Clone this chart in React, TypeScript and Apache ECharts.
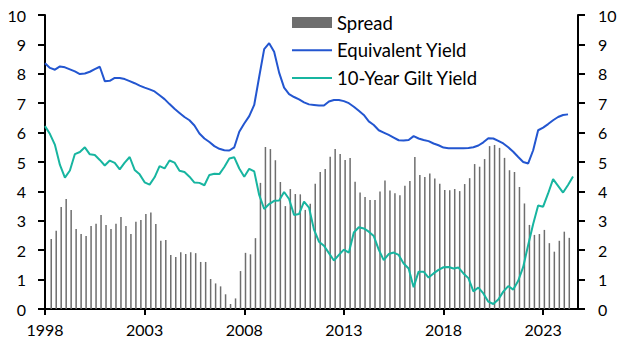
import React, { useEffect, useRef } from "react";
import * as echarts from "echarts";

// ---- Data ----
const START_YEAR = 1998;
const xTickYears = [1998, 2003, 2008, 2013, 2018, 2023];
const yTicks = [0, 1, 2, 3, 4, 5, 6, 7, 8, 9, 10];

// Quarterly spread (Equivalent yield minus 10-year gilt yield), %-points, 1998Q1 .. 2024Q1
const spread = [
  2.38, 2.66, 3.47, 3.74, 3.37, 2.72, 2.55, 2.48, 2.82, 2.9, 3.2, 2.86, 2.72, 2.9, 3.13, 2.82,
  2.55, 2.97, 3.03, 3.23, 3.28, 2.89, 2.32, 2.35, 1.84, 1.77,
  1.93, 1.87, 1.93, 1.9, 1.6, 1.6, 1.02, 0.87, 0.77, 0.5, 0.17, 0.36, 1.29, 1.91, 1.86, 2.41,
  4.29, 5.51, 5.44, 5.06, 4.32, 3.5, 4.08, 3.91, 3.9, 3.37, 3.58,
  4.26, 4.66, 4.76, 5.18, 5.44, 5.27, 5.07, 5.14, 4.33, 3.96, 3.81, 3.71, 3.71, 4.0, 4.37, 4.03,
  3.94, 3.87, 4.19, 4.35, 5.17, 4.56, 4.49, 4.61, 4.44, 4.26, 4.05,
  4.04, 4.08, 4.01, 4.25, 4.45, 4.93, 4.84, 5.1, 5.54, 5.58, 5.48, 5.14, 4.72, 4.66, 4.15, 3.59,
  2.86, 2.52, 2.55, 2.69, 2.24, 1.95, 2.32, 2.63, 2.42,
];

// Equivalent yield, %, quarterly from 1998
const equivalentYield = [
  8.36, 8.2, 8.14, 8.25, 8.22, 8.15, 8.08, 7.99, 8.01, 8.07, 8.16, 8.24, 7.75, 7.76, 7.86, 7.86,
  7.82, 7.75, 7.68, 7.6, 7.53, 7.47, 7.4, 7.27, 7.14, 6.97, 6.81, 6.67, 6.53, 6.42, 6.24, 5.97,
  5.8, 5.68, 5.54, 5.45, 5.4, 5.39, 5.5, 6.03, 6.31, 6.56, 6.94, 7.9, 8.84, 9.04, 8.75, 8.04,
  7.53, 7.31, 7.21, 7.13, 7.03, 6.96, 6.94, 6.92, 6.92, 7.06, 7.11, 7.11, 7.07, 7.0, 6.88, 6.74,
  6.6, 6.38, 6.26, 6.08, 6.0, 5.92, 5.83, 5.74, 5.73, 5.75, 5.88, 5.8, 5.75, 5.71, 5.63, 5.57,
  5.49, 5.47, 5.47, 5.47, 5.47, 5.48, 5.5, 5.56, 5.67, 5.81, 5.8, 5.72, 5.63, 5.5, 5.35, 5.17,
  5.0, 4.95, 5.4, 6.08, 6.17, 6.29, 6.42, 6.53, 6.6, 6.62,
];

// 10-year gilt yield, %, quarterly from 1998
const giltYield = [
  6.22, 5.95, 5.58, 4.9, 4.47, 4.71, 5.27, 5.34, 5.5, 5.26, 5.24, 5.07, 4.88, 5.05, 4.97, 4.75,
  4.98, 5.17, 4.73, 4.58, 4.31, 4.23, 4.48, 4.86, 4.78, 5.05, 4.98, 4.7, 4.66, 4.5, 4.3, 4.29,
  4.21, 4.56, 4.6, 4.59, 4.83, 5.12, 5.16, 4.78, 4.5, 4.77, 4.68, 3.88, 3.4, 3.57, 3.68, 3.69,
  3.98, 3.74, 3.2, 3.23, 3.65, 3.45, 2.7, 2.29, 2.15, 1.9, 1.65, 1.84, 2.02, 1.92, 2.6, 2.78,
  2.74, 2.63, 2.48, 2.02, 1.66, 1.87, 1.92, 1.84, 1.55, 1.38, 0.74, 1.27, 1.27, 1.07, 1.21, 1.33,
  1.42, 1.43, 1.38, 1.41, 1.21, 1.05, 0.6, 0.73, 0.53, 0.25, 0.17, 0.32, 0.59, 0.78, 0.66, 0.96,
  1.43, 2.18, 2.89, 3.52, 3.48, 3.93, 4.42, 4.19, 3.96, 4.22, 4.51,
];

const FONT = "Lato, 'Open Sans', sans-serif";
const BLUE = "#2356d0";
const TEAL = "#17b5a0";
const GREY = "#6e6e6e";
const LINE_ICON = "path://M0,0L40,0L40,2L0,2Z";

const lineDate = (k: number) => START_YEAR + k / 4;
const barDate = (i: number) => START_YEAR + (i + 1.25) / 4;

export default function App() {
  const ref = useRef<HTMLDivElement>(null);

  useEffect(() => {
    if (!ref.current) return;
    const chart = echarts.init(ref.current, undefined, { renderer: "svg" });

    const axisLabelStyle = { fontSize: 16, color: "#000", fontFamily: FONT };

    const yAxisBase = {
      type: "value",
      min: 0,
      max: 10,
      interval: 1,
      axisLine: { show: true, lineStyle: { color: "#000", width: 2 } },
      axisTick: { show: true, length: 7, lineStyle: { color: "#000", width: 2 } },
      splitLine: { show: false },
    };

    chart.setOption({
      animation: false,
      backgroundColor: "#fff",
      textStyle: { fontFamily: FONT },
      grid: { left: 45, right: 50, top: 15, bottom: 44, containLabel: false },
      legend: {
        orient: "vertical",
        left: 287,
        top: 6.5,
        itemWidth: 40,
        itemHeight: 11,
        itemGap: 5.7,
        symbolKeepAspect: true,
        textStyle: { fontSize: 18.5, color: "#000", lineHeight: 22, fontFamily: FONT },
        data: [
          { name: "Spread", icon: "rect" },
          { name: "Equivalent Yield", icon: LINE_ICON },
          { name: "10-Year Gilt Yield", icon: LINE_ICON },
        ],
      },
      xAxis: {
        type: "value",
        min: START_YEAR,
        max: 2024.75,
        axisLine: { show: true, lineStyle: { color: "#000", width: 2 } },
        axisTick: {
          show: true,
          length: 6,
          customValues: xTickYears,
          lineStyle: { color: "#000", width: 2 },
        },
        axisLabel: {
          ...axisLabelStyle,
          margin: 12,
          customValues: xTickYears,
          formatter: (v: number) => String(v),
        },
        splitLine: { show: false },
      },
      yAxis: [
        {
          ...yAxisBase,
          position: "left",
          axisLabel: { ...axisLabelStyle, margin: 19, customValues: yTicks },
        },
        {
          ...yAxisBase,
          position: "right",
          axisLabel: { ...axisLabelStyle, margin: 20, customValues: yTicks },
        },
      ],
      series: [
        {
          name: "Spread",
          type: "bar",
          yAxisIndex: 0,
          barWidth: 1.5,
          itemStyle: { color: GREY },
          data: spread.map((v, i) => [barDate(i), v]),
        },
        {
          name: "Equivalent Yield",
          type: "line",
          yAxisIndex: 0,
          symbol: "none",
          lineStyle: { color: BLUE, width: 2 },
          itemStyle: { color: BLUE },
          data: equivalentYield.map((v, k) => [lineDate(k), v]),
        },
        {
          name: "10-Year Gilt Yield",
          type: "line",
          yAxisIndex: 0,
          symbol: "none",
          lineStyle: { color: TEAL, width: 2 },
          itemStyle: { color: TEAL },
          data: giltYield.map((v, k) => [lineDate(k), v]),
        },
      ],
    });

    return () => chart.dispose();
  }, []);

  return (
    <div
      ref={ref}
      style={{ position: "absolute", left: 0, top: 0, width: 628, height: 353, background: "#fff" }}
    />
  );
}
